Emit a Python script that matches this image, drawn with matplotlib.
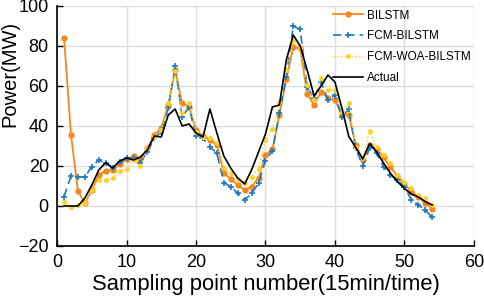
import numpy as np
import matplotlib
matplotlib.use("Agg")
import matplotlib.pyplot as plt

plt.rcParams['font.family'] = ['Liberation Sans', 'DejaVu Sans']

x = list(range(1, 55))

bilstm = [84, 35.5, 7.5, 1.3, 8, 15.5, 17.7, 18, 21, 23.3,
          25, 23.5, 29, 35.5, 39, 50.5, 68, 51.3, 49.7, 38,
          35, 33, 30.5, 16.7, 13.5, 10.5, 8, 9.7, 14, 25.5,
          28.3, 45.5, 63.3, 79.3, 78.8, 56, 50.5, 57, 54, 53,
          45.5, 45.5, 30.5, 23, 30.5, 28.5, 24.3, 19.3, 15, 11,
          7.2, 4.3, 1.7, -1.5]

fcm_bilstm = [4.7, 15, 14.5, 14.5, 19.7, 23, 21.5, 19, 22, 24,
              24, 21.7, 27, 34, 37, 49, 70, 44.7, 49.3, 35,
              33.8, 29.7, 26.3, 11.7, 9.7, 6.3, 3, 6.3, 11.3, 22.7,
              27.7, 46.3, 64.7, 90, 88.3, 59.5, 54, 62, 53, 55.5,
              44.7, 48.3, 28.8, 20, 29, 26.3, 19.7, 15.5, 13, 9.7,
              3, 0.5, -2, -5.7]

fcm_woa_bilstm = [1.8, -0.7, 0.5, 1.7, 8, 13, 13, 14, 17.7, 18.5,
                  23, 20, 29, 34.5, 38, 51.3, 67.7, 46.7, 51.3, 37.2,
                  34.3, 33.8, 31.3, 18.8, 16.3, 13.3, 11.3, 14.5, 18.5, 33,
                  38.5, 52, 68, 82.5, 79, 60.5, 53, 64, 58, 58,
                  47, 51.7, 29.5, 23.8, 37.7, 29.5, 25.5, 21.7, 15.5, 12.2,
                  9.2, 5.5, 3.8, 0.5]

actual = [0, 0, 0, 4, 10.5, 18, 21.7, 19, 22.5, 24,
          23, 24.5, 28, 35, 34.5, 45.5, 48.5, 40, 41, 36.5,
          34.5, 48.5, 36.5, 25, 19, 14, 11, 18, 27, 36,
          49.5, 50.5, 73, 85.5, 80, 68, 55, 60, 65.5, 62,
          49, 34.7, 29.3, 23.5, 31.3, 27, 21.5, 16.3, 12.2, 8.8,
          6, 4.5, 2.2, 0.5]

labels = ['BILSTM', 'FCM-BILSTM', 'FCM-WOA-BILSTM', 'Actual']

fig = plt.figure(figsize=(4.84, 3.0), dpi=100)
ax = fig.add_axes([0.118, 0.18, 0.861, 0.80])

ax.plot(x, bilstm, color='#F7861C', lw=1.3, marker='o', ms=3.5, label=labels[0])
ax.plot(x, fcm_bilstm, color='#1A7BC0', lw=1.2, ls=(0, (5, 3)), marker='+', ms=4.5, mew=1.2, label=labels[1])
ax.plot(x, fcm_woa_bilstm, color='#FFD21F', lw=1.0, ls=':', marker='.', ms=5, label=labels[2])
ax.plot(x, actual, color='black', lw=1.2, label=labels[3])

ax.set_xlim(0, 60)
ax.set_ylim(-20, 100)
ax.set_xticks(range(0, 61, 10))
ax.set_yticks(range(-20, 101, 20))
ax.grid(True, color='#DDDDDD', lw=1.0)
ax.set_axisbelow(True)
for s in ['top', 'right']:
    ax.spines[s].set_visible(False)
for s in ['left', 'bottom']:
    ax.spines[s].set_linewidth(1.2)
ax.tick_params(direction='in', length=4, width=1.0, labelsize=13, pad=6)

ax.set_xlabel('Sampling point number(15min/time)', fontsize=15.8, labelpad=2)
ax.set_ylabel('Power(MW)', fontsize=14.5)
ax.yaxis.set_label_coords(-0.09, 0.715)

leg = ax.legend(loc='upper right', bbox_to_anchor=(1.0, 1.0), frameon=False,
                fontsize=8.5, handlelength=2.5,
                borderaxespad=0.0, borderpad=0.3, labelspacing=0.75, handletextpad=0.3)

fig.savefig('out.png', dpi=100)
